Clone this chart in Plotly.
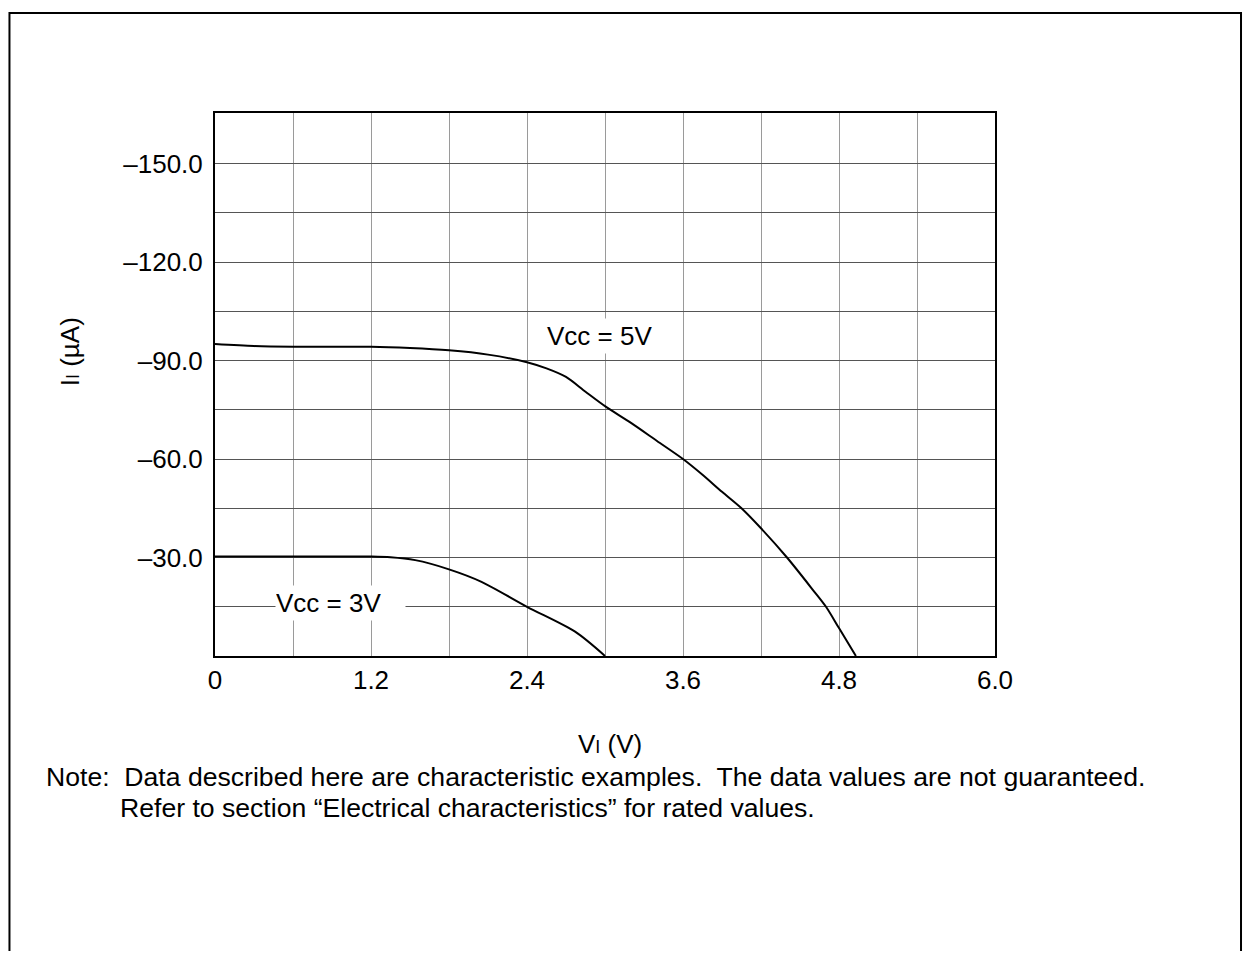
import plotly.graph_objects as go

# Vcc = 5V curve (VI in V, II in uA)
v5_x = [0, 0.3, 0.6, 1.2, 1.5, 1.8, 2.1, 2.4, 2.55, 2.7, 2.85, 3.0, 3.2, 3.4,
        3.6, 3.75, 3.9, 4.05, 4.2, 4.4, 4.6, 4.7, 4.8, 4.93]
v5_y = [-95.0, -94.4, -94.2, -94.2, -93.8, -93.1, -91.8, -89.5, -87.6, -85.0,
        -80.5, -76.1, -71.0, -65.5, -60.0, -55.2, -50.0, -45.0, -38.9, -30.0,
        -20.1, -15.0, -8.5, 0.0]

# Vcc = 3V curve
v3_x = [0, 0.6, 1.2, 1.35, 1.54, 1.8, 2.05, 2.4, 2.77, 3.0]
v3_y = [-30.3, -30.3, -30.3, -30.1, -29.2, -26.4, -22.6, -15.0, -7.4, 0.0]

x_ticks = [0, 0.6, 1.2, 1.8, 2.4, 3.0, 3.6, 4.2, 4.8, 5.4, 6.0]
x_labels = ["0", "", "1.2", "", "2.4", "", "3.6", "", "4.8", "", "6.0"]
y_ticks = [-15, -30, -45, -60, -75, -90, -105, -120, -135, -150]
y_labels = ["", "\u201330.0", "", "\u201360.0", "", "\u201390.0", "",
            "\u2013120.0", "", "\u2013150.0"]

FONT = "Liberation Sans, Arial, sans-serif"
FS = 26

fig = go.Figure()

for xs, ys in [(v5_x, v5_y), (v3_x, v3_y)]:
    fig.add_trace(go.Scatter(
        x=xs, y=ys, mode="lines",
        line=dict(color="black", width=2, shape="spline", smoothing=0.8),
        showlegend=False, hoverinfo="skip"
    ))

fig.update_xaxes(
    range=[0, 6.0], tickvals=x_ticks, ticktext=x_labels,
    showgrid=True, gridcolor="#9a9a9a", gridwidth=1,
    showline=True, linecolor="black", linewidth=2, mirror=True,
    zeroline=False, ticks="", ticklabelstandoff=0,
    tickfont=dict(family=FONT, size=FS, color="black")
)
fig.update_yaxes(
    range=[0, -165.4], tickvals=y_ticks, ticktext=y_labels,
    showgrid=True, gridcolor="#555555", gridwidth=1,
    showline=True, linecolor="black", linewidth=2, mirror=True,
    zeroline=False, ticks="", ticklabelstandoff=5,
    tickfont=dict(family=FONT, size=FS, color="black")
)

small_i = "<span style='font-size:18px'>I</span>"
tfont = dict(family=FONT, size=FS, color="black")
nfont = dict(family=FONT, size=26.6, color="black")

annotations = [
    # curve labels
    dict(x=2.96, y=-97.4, xref="x", yref="y", text="Vcc = 5V", showarrow=False,
         xanchor="center", yanchor="middle",
         bgcolor="white", borderpad=2, font=tfont),
    dict(x=0.965, y=-16.1, xref="x", yref="y", text="Vcc = 3V", showarrow=False,
         xanchor="center", yanchor="middle",
         bgcolor="white", width=129, height=34, align="left", borderpad=0,
         font=tfont),
    # axis titles
    dict(x=-0.186, y=0.561, xref="paper", yref="paper", text="I" + small_i + " (\u00b5A)",
         xanchor="center", yanchor="middle",
         textangle=-90, showarrow=False, font=tfont),
    dict(x=0.506, y=-0.162, xref="paper", yref="paper", text="V" + small_i + " (V)",
         xanchor="center", yanchor="middle",
         showarrow=False, font=tfont),
    # note
    dict(x=-0.219, y=-0.2228, xref="paper", yref="paper", xanchor="left", yanchor="middle",
         text="Note:\u00a0 Data described here are characteristic examples.\u00a0 "
              "The data values are not guaranteed.",
         showarrow=False, font=nfont),
    dict(x=-0.1245, y=-0.2799, xref="paper", yref="paper", xanchor="left", yanchor="middle",
         text="Refer to section \u201cElectrical characteristics\u201d for rated values.",
         showarrow=False, font=nfont),
]

# page body has an 8px margin: shift everything up/left and keep the page
# inside the window so nothing overflows
fig.update_layout(
    width=1235, height=943,
    margin=dict(l=207, r=248, t=105, b=295),
    paper_bgcolor="white", plot_bgcolor="white",
    annotations=annotations,
    shapes=[dict(type="rect", xref="paper", yref="paper",
                 x0=-0.2635, x1=1.3154, y0=-0.6, y1=1.1842,
                 line=dict(color="black", width=2), layer="below")],
)

fig.write_html("out.html")
